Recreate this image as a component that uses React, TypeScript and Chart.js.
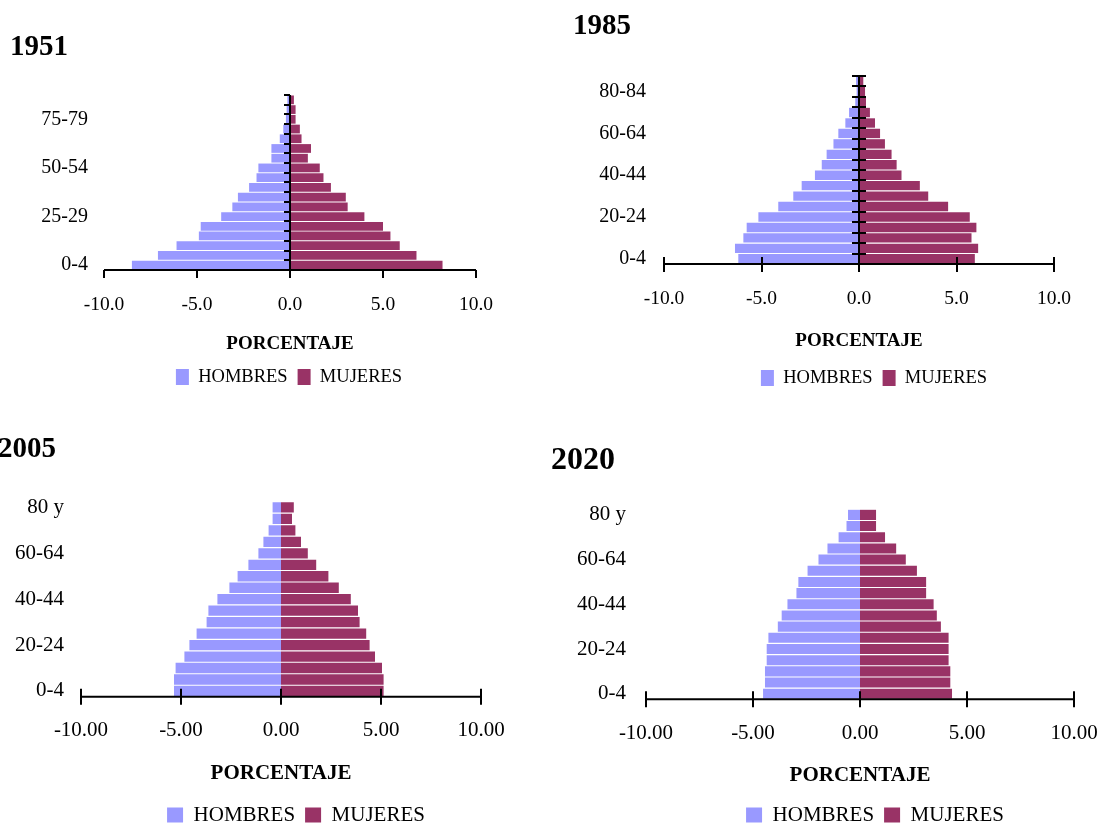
import React, { useEffect, useRef } from 'react';
import { Chart, registerables } from 'chart.js';

Chart.register(...registerables);

// ---------- DATA ----------
const AGES_18 = ['0-4', '5-9', '10-14', '15-19', '20-24', '25-29', '30-34', '35-39', '40-44', '45-49', '50-54', '55-59', '60-64', '65-69', '70-74', '75-79', '80-84', '85 y más'];
const AGES_17 = ['0-4', '5-9', '10-14', '15-19', '20-24', '25-29', '30-34', '35-39', '40-44', '45-49', '50-54', '55-59', '60-64', '65-69', '70-74', '75-79', '80 y'];

const HOMBRES_1951 = [-8.5, -7.1, -6.1, -4.9, -4.8, -3.7, -3.1, -2.8, -2.2, -1.8, -1.7, -1.0, -1.0, -0.55, -0.36, -0.22, -0.18, -0.14];
const MUJERES_1951 = [8.2, 6.8, 5.9, 5.4, 5.0, 4.0, 3.1, 3.0, 2.2, 1.8, 1.6, 0.96, 1.13, 0.62, 0.53, 0.3, 0.3, 0.21];

const HOMBRES_1985 = [-6.19, -6.36, -5.93, -5.76, -5.16, -4.14, -3.37, -2.94, -2.26, -1.91, -1.66, -1.31, -1.06, -0.7, -0.51, -0.19, -0.12, -0.15];
const MUJERES_1985 = [5.94, 6.11, 5.77, 6.02, 5.68, 4.57, 3.55, 3.12, 2.18, 1.93, 1.67, 1.33, 1.08, 0.82, 0.56, 0.36, 0.31, 0.22];

const HOMBRES_2005 = [-5.35, -5.35, -5.27, -4.83, -4.58, -4.22, -3.72, -3.63, -3.18, -2.58, -2.17, -1.63, -1.13, -0.88, -0.62, -0.42, -0.42];
const MUJERES_2005 = [5.13, 5.13, 5.05, 4.7, 4.43, 4.26, 3.93, 3.85, 3.49, 2.89, 2.37, 1.76, 1.34, 1.0, 0.72, 0.55, 0.64];

const HOMBRES_2020 = [-4.53, -4.44, -4.44, -4.36, -4.36, -4.28, -3.84, -3.66, -3.39, -2.97, -2.88, -2.45, -1.94, -1.52, -1.0, -0.63, -0.56];
const MUJERES_2020 = [4.3, 4.22, 4.22, 4.14, 4.14, 4.14, 3.78, 3.59, 3.44, 3.09, 3.09, 2.66, 2.14, 1.69, 1.17, 0.75, 0.75];

const X_MIN = -10;
const X_MAX = 10;
const X_STEP = 5;

const LEGEND_H = 'HOMBRES';
const LEGEND_M = 'MUJERES';
const X_TITLE = 'PORCENTAJE';

// ---------- STYLE ----------
const SERIF = '"Liberation Serif", "Times New Roman", "DejaVu Serif", serif';
const COLOR_H = '#9999FF';
const COLOR_M = '#993366';

type PanelCfg = {
  title: string;
  ages: string[];
  men: number[];
  women: number[];
  labelEvery: number;
  decimals: number;
  left: number;
  top: number;
  width: number;
  height: number;
  yWidth: number;
  yPad: number;
  yFont: number;
  rightW: number;
  titleSize: number;
  titlePadTop: number;
  titlePadBottom: number;
  tickSize: number;
  tickPad: number;
  xTitleSize: number;
  xTitlePadBottom: number;
  xHeight: number;
  legendSize: number;
  boxW: number;
  boxH: number;
  padBottom: number;
  zeroLine: boolean;
  zeroLeft: number;
  zeroRight: number;
  xUp: number;
  xDown: number;
};

const PANELS: PanelCfg[] = [
  {
    title: '1951', ages: AGES_18, men: HOMBRES_1951, women: MUJERES_1951, labelEvery: 5, decimals: 1,
    left: 10, top: 0, width: 558, height: 400,
    yWidth: 94, yPad: 16, yFont: 20, rightW: 92,
    titleSize: 29, titlePadTop: 30.6, titlePadBottom: 29.6,
    tickSize: 19.5, tickPad: 23.3, xTitleSize: 19, xTitlePadBottom: 2.35, xHeight: 87.75,
    legendSize: 18.5, boxW: 13, boxH: 16, padBottom: 3.75,
    zeroLine: true, zeroLeft: 6, zeroRight: 0, xUp: 0, xDown: 8,
  },
  {
    title: '1985', ages: AGES_18, men: HOMBRES_1985, women: MUJERES_1985, labelEvery: 4, decimals: 1,
    left: 573, top: 0, width: 602, height: 400,
    yWidth: 91, yPad: 18, yFont: 20, rightW: 121,
    titleSize: 29, titlePadTop: 9.6, titlePadBottom: 31.6,
    tickSize: 19.5, tickPad: 23.3, xTitleSize: 19, xTitlePadBottom: 6.35, xHeight: 94.75,
    legendSize: 18.5, boxW: 13, boxH: 16, padBottom: 2.75,
    zeroLine: true, zeroLeft: 7, zeroRight: 7, xUp: 7, xDown: 8,
  },
  {
    title: '2005', ages: AGES_17, men: HOMBRES_2005, women: MUJERES_2005, labelEvery: 4, decimals: 2,
    left: -2, top: 400, width: 596, height: 440,
    yWidth: 83, yPad: 17, yFont: 21, rightW: 113,
    titleSize: 29, titlePadTop: 32.6, titlePadBottom: 34.3,
    tickSize: 21, tickPad: 21.2, xTitleSize: 21, xTitlePadBottom: 8.4, xHeight: 97.8,
    legendSize: 21, boxW: 16, boxH: 15, padBottom: 4.5,
    zeroLine: false, zeroLeft: 0, zeroRight: 0, xUp: 8, xDown: 8,
  },
  {
    title: '2020', ages: AGES_17, men: HOMBRES_2020, women: MUJERES_2020, labelEvery: 4, decimals: 2,
    left: 551, top: 400, width: 648, height: 440,
    yWidth: 95, yPad: 20, yFont: 21, rightW: 125,
    titleSize: 32, titlePadTop: 41.3, titlePadBottom: 29.6,
    tickSize: 21, tickPad: 21.6, xTitleSize: 21, xTitlePadBottom: 5.9, xHeight: 95.2,
    legendSize: 21, boxW: 16, boxH: 15, padBottom: 4.5,
    zeroLine: false, zeroLeft: 0, zeroRight: 0, xUp: 8, xDown: 8,
  },
];

const axesPlugin = {
  id: 'pyramidAxes',
  afterDatasetsDraw(chart: any, _args: any, opts: any) {
    const { ctx, chartArea } = chart;
    const xs = chart.scales.x;
    const ys = chart.scales.y;
    const bottom = chartArea.bottom;
    ctx.save();
    ctx.strokeStyle = '#000';
    ctx.lineWidth = 2;
    ctx.lineCap = 'butt';
    // horizontal axis line
    ctx.beginPath();
    ctx.moveTo(chartArea.left, bottom);
    ctx.lineTo(chartArea.right, bottom);
    ctx.stroke();
    // x tick marks
    xs.ticks.forEach((t: any) => {
      const px = Math.round(xs.getPixelForValue(t.value));
      ctx.beginPath();
      ctx.moveTo(px, bottom - opts.xUp);
      ctx.lineTo(px, bottom + opts.xDown);
      ctx.stroke();
    });
    if (opts.zeroLine) {
      const px0 = Math.round(xs.getPixelForValue(0));
      ctx.beginPath();
      ctx.moveTo(px0, chartArea.top);
      ctx.lineTo(px0, bottom);
      ctx.stroke();
      const n = ys.getLabels().length;
      const step = Math.abs(ys.getPixelForValue(1) - ys.getPixelForValue(0));
      const base = ys.getPixelForValue(0) + step / 2;
      for (let i = 1; i <= n; i++) {
        const yb = Math.round(base - i * step);
        ctx.beginPath();
        ctx.moveTo(px0 - opts.zeroLeft, yb);
        ctx.lineTo(px0 + opts.zeroRight, yb);
        ctx.stroke();
      }
    }
    ctx.restore();
  },
};

function Pyramid({ cfg }: { cfg: PanelCfg }) {
  const ref = useRef<HTMLCanvasElement>(null);
  useEffect(() => {
    const canvas = ref.current;
    if (!canvas) return;
    const chart = new Chart(canvas, {
      type: 'bar',
      data: {
        labels: cfg.ages,
        datasets: [
          {
            label: LEGEND_H,
            data: cfg.men,
            backgroundColor: COLOR_H,
            borderWidth: 0,
            barPercentage: 0.9,
            categoryPercentage: 1,
          },
          {
            label: LEGEND_M,
            data: cfg.women,
            backgroundColor: COLOR_M,
            borderWidth: 0,
            barPercentage: 0.9,
            categoryPercentage: 1,
          },
        ],
      },
      plugins: [axesPlugin],
      options: {
        indexAxis: 'y',
        responsive: false,
        animation: false,
        devicePixelRatio: 1,
        events: [],
        layout: { padding: { left: 0, right: 0, top: 0, bottom: cfg.padBottom } },
        scales: {
          x: {
            type: 'linear',
            stacked: true,
            min: X_MIN,
            max: X_MAX,
            grid: { display: false, drawTicks: false },
            border: { display: false },
            ticks: {
              stepSize: X_STEP,
              padding: cfg.tickPad,
              color: '#000',
              font: { family: SERIF, size: cfg.tickSize },
              callback: (v: any) => Number(v).toFixed(cfg.decimals),
            },
            title: {
              display: true,
              text: X_TITLE,
              color: '#000',
              font: { family: SERIF, size: cfg.xTitleSize, weight: 'bold' },
              padding: { top: 0, bottom: cfg.xTitlePadBottom },
            },
            afterFit: (s: any) => {
              s.height = cfg.xHeight;
            },
          },
          y: {
            type: 'category',
            stacked: true,
            reverse: true,
            grid: { display: false, drawTicks: false },
            border: { display: false },
            ticks: {
              autoSkip: false,
              padding: cfg.yPad,
              color: '#000',
              font: { family: SERIF, size: cfg.yFont },
              callback: (_v: any, i: number) => (i % cfg.labelEvery === 0 ? cfg.ages[i] : ''),
            },
            afterFit: (s: any) => {
              s.width = cfg.yWidth;
            },
          },
          yR: {
            type: 'linear',
            position: 'right',
            display: true,
            grid: { display: false, drawTicks: false },
            border: { display: false },
            ticks: { display: false },
            afterFit: (s: any) => {
              s.width = cfg.rightW;
            },
          },
        },
        plugins: {
          title: {
            display: true,
            text: cfg.title,
            align: 'start',
            color: '#000',
            font: { family: SERIF, size: cfg.titleSize, weight: 'bold', lineHeight: 1.2 },
            padding: { top: cfg.titlePadTop, bottom: cfg.titlePadBottom },
          },
          legend: {
            display: true,
            position: 'bottom',
            labels: {
              color: '#000',
              boxWidth: cfg.boxW,
              boxHeight: cfg.boxH,
              padding: 10,
              font: { family: SERIF, size: cfg.legendSize },
            },
          },
          tooltip: { enabled: false },
          pyramidAxes: {
            zeroLine: cfg.zeroLine,
            zeroLeft: cfg.zeroLeft,
            zeroRight: cfg.zeroRight,
            xUp: cfg.xUp,
            xDown: cfg.xDown,
          },
        } as any,
      } as any,
    });
    return () => chart.destroy();
  }, [cfg]);
  return (
    <canvas
      ref={ref}
      width={cfg.width}
      height={cfg.height}
      style={{ position: 'absolute', left: cfg.left, top: cfg.top, width: cfg.width, height: cfg.height }}
    />
  );
}

export default function App() {
  return (
    <div
      style={{
        position: 'absolute',
        left: 0,
        top: 0,
        width: 1112,
        height: 827,
        overflow: 'hidden',
        background: '#ffffff',
      }}
    >
      {PANELS.map((p) => (
        <Pyramid key={p.title} cfg={p} />
      ))}
    </div>
  );
}
